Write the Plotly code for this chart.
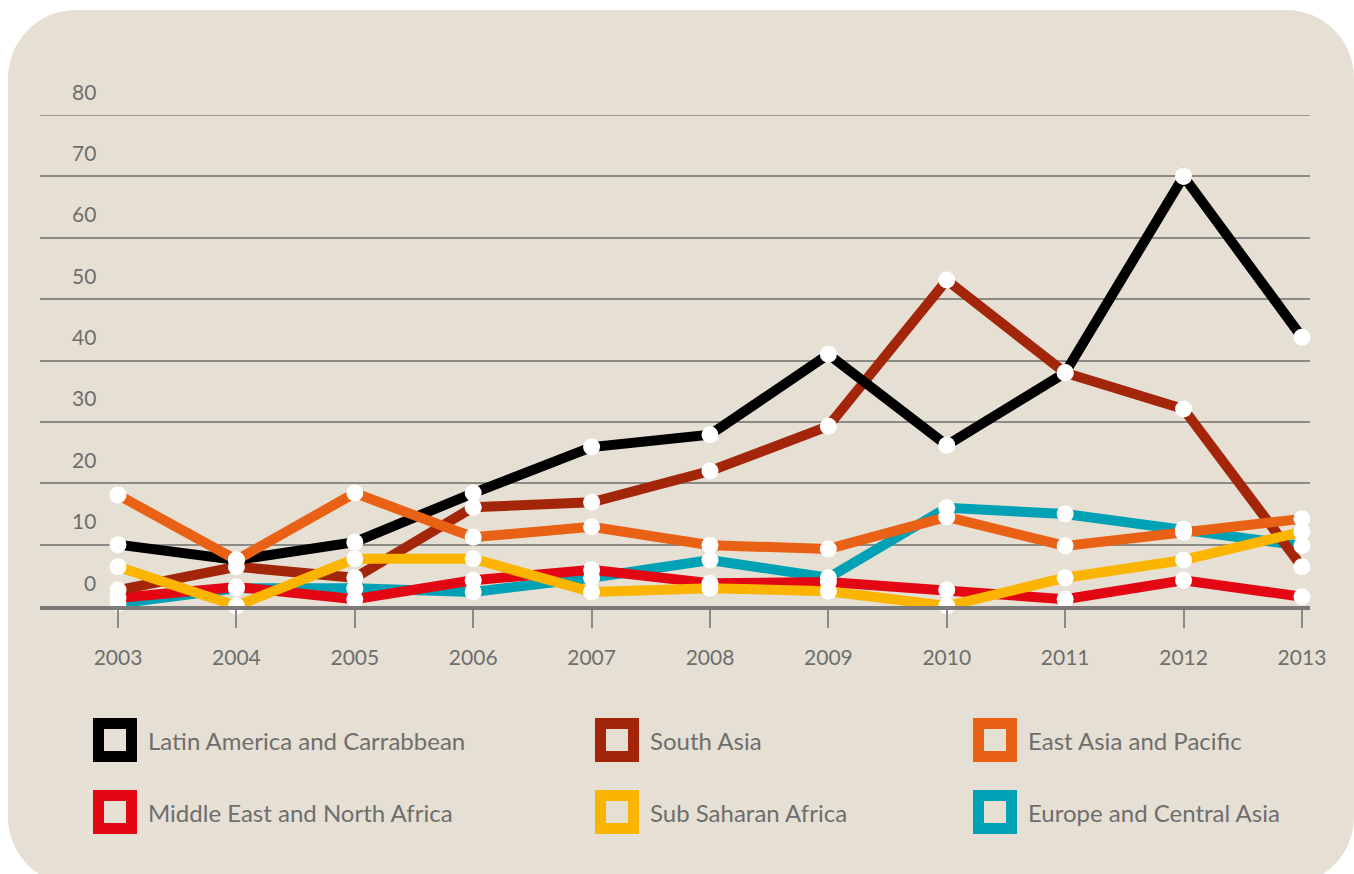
import plotly.graph_objects as go

years = [2003, 2004, 2005, 2006, 2007, 2008, 2009, 2010, 2011, 2012, 2013]
year_labels = [str(y) for y in years]

latin_america = [10, 7.5, 10.4, 18.4, 25.9, 27.9, 41, 26.2, 38, 70, 43.8]
south_asia = [2.6, 6.4, 4.6, 16.1, 16.9, 22, 29.3, 53.1, 38, 32.1, 6.4]
east_asia = [18.1, 7.5, 18.4, 11.2, 12.9, 9.9, 9.3, 14.5, 9.8, 12, 14.2]
middle_east = [1.3, 3.1, 1.1, 4.2, 5.9, 3.7, 3.9, 2.6, 1.1, 4.2, 1.5]
sub_saharan = [6.4, 0, 7.7, 7.7, 2.3, 2.9, 2.4, 0, 4.6, 7.5, 12.1]
europe = [0.4, 2.9, 2.9, 2.3, 4.6, 7.5, 4.6, 16, 15, 12.5, 9.8]

y_ticks = [0, 10, 20, 30, 40, 50, 60, 70, 80]
y_tick_labels = [str(v) for v in y_ticks]

series_names = ["Latin America and Carrabbean", "South Asia", "East Asia and Pacific",
                "Middle East and North Africa", "Sub Saharan Africa", "Europe and Central Asia"]
series_values = [latin_america, south_asia, east_asia, middle_east, sub_saharan, europe]
series_colors = ["#000000", "#a3260b", "#e96115", "#e30613", "#fbb400", "#00a1b5"]

# drawing order (bottom -> top)
draw_order = [5, 3, 1, 0, 2, 4]

W, H = 1354, 874
ML, MR, MT, MB = 40, 44, 115, 268
PW, PH = W - ML - MR, H - MT - MB
BG = "#e6e0d4"
TXT = "#6e6e6e"
FONT = "Lato, 'Open Sans', sans-serif"


def px(x):
    return (x - ML) / PW


def py(y):
    return (H - MB - y) / PH


fig = go.Figure()
for i in draw_order:
    fig.add_trace(go.Scatter(x=years, y=series_values[i], mode="lines",
                             line=dict(color=series_colors[i], width=10),
                             cliponaxis=False, showlegend=False, hoverinfo="skip"))
for i in draw_order:
    fig.add_trace(go.Scatter(x=years, y=series_values[i], mode="markers",
                             marker=dict(color="white", size=17, line=dict(width=0)),
                             cliponaxis=False, showlegend=False, name=series_names[i]))

# rounded background panel
x0, x1, y0, y1, r = 8, 1354, 10, 885, 68
k = 0.5523 * r
pts = [
    f"M {px(x0 + r)},{py(y0)}",
    f"L {px(x1 - r)},{py(y0)}",
    f"C {px(x1 - r + k)},{py(y0)} {px(x1)},{py(y0 + r - k)} {px(x1)},{py(y0 + r)}",
    f"L {px(x1)},{py(y1 - r)}",
    f"C {px(x1)},{py(y1 - r + k)} {px(x1 - r + k)},{py(y1)} {px(x1 - r)},{py(y1)}",
    f"L {px(x0 + r)},{py(y1)}",
    f"C {px(x0 + r - k)},{py(y1)} {px(x0)},{py(y1 - r + k)} {px(x0)},{py(y1 - r)}",
    f"L {px(x0)},{py(y0 + r)}",
    f"C {px(x0)},{py(y0 + r - k)} {px(x0 + r - k)},{py(y0)} {px(x0 + r)},{py(y0)}",
    "Z",
]
shapes = [dict(type="path", xref="paper", yref="paper", path=" ".join(pts),
               fillcolor=BG, line=dict(width=0), layer="below")]
# top gridline (at range edge)
shapes.append(dict(type="line", xref="paper", yref="y", x0=0, x1=1,
                   y0=y_ticks[-1], y1=y_ticks[-1],
                   line=dict(color="#9a978f", width=2), layer="below"))

annotations = []
for v, lab in zip(y_ticks, y_tick_labels):
    annotations.append(dict(x=px(98), y=v, xref="paper", yref="y", text=lab,
                            showarrow=False, xanchor="right", yanchor="middle",
                            yshift=24, font=dict(family=FONT, size=21, color=TXT)))

# legend
col_left = [93, 595, 973]
row_top = [718, 790]
sq = 44
bw = 11
for idx, (name, col) in enumerate(zip(series_names, series_colors)):
    c = idx % 3
    rrow = idx // 3
    lx, ty = col_left[c], row_top[rrow]
    shapes.append(dict(type="rect", xref="paper", yref="paper",
                       x0=px(lx + bw / 2), x1=px(lx + sq - bw / 2),
                       y0=py(ty + bw / 2), y1=py(ty + sq - bw / 2),
                       fillcolor=BG, line=dict(color=col, width=bw), layer="above"))
    annotations.append(dict(x=px(lx + 53), y=py(ty + sq / 2), xref="paper", yref="paper",
                            text=name, showarrow=False, xanchor="left", yanchor="middle",
                            font=dict(family=FONT, size=24, color=TXT)))

fig.update_layout(
    width=W, height=H,
    margin=dict(l=ML, r=MR, t=MT, b=MB, pad=0),
    paper_bgcolor="white",
    plot_bgcolor="rgba(0,0,0,0)",
    shapes=shapes,
    annotations=annotations,
    showlegend=False,
    xaxis=dict(range=[2002.341, 2013.068], tickvals=years, ticktext=year_labels,
               showgrid=False, zeroline=False, ticks="outside", ticklen=18,
               tickcolor="#8a8a8a", tickwidth=1.5, ticklabelstandoff=12,
               showline=True, linecolor="#7a7a7a", linewidth=4,
               tickfont=dict(family=FONT, size=21, color=TXT), fixedrange=True),
    yaxis=dict(range=[0, 80], tickvals=y_ticks, showticklabels=False,
               showgrid=True, gridcolor="#8c8a84", gridwidth=1.5,
               zeroline=False, showline=False, fixedrange=True),
)

fig.write_html("out.html", post_script="document.body.style.margin='0';",
               config={"displayModeBar": False})
